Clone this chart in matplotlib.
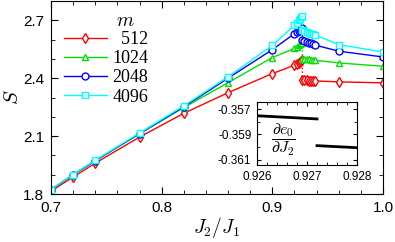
import numpy as np
import matplotlib
matplotlib.use("Agg")
import matplotlib.pyplot as plt
from matplotlib.ticker import MultipleLocator, FixedLocator, FormatStrFormatter

plt.rcParams['mathtext.fontset'] = 'cm'
plt.rcParams['font.family'] = ['Liberation Sans', 'DejaVu Sans']
plt.rcParams['axes.unicode_minus'] = False

# J2/J1 below and above the transition
x_left = [0.70, 0.72, 0.74, 0.78, 0.82, 0.86, 0.90, 0.920, 0.922, 0.924, 0.925, 0.926, 0.927]
x_right = [0.9272, 0.929, 0.931, 0.933, 0.935, 0.937, 0.939, 0.96, 1.00]

# entanglement entropy S for each bond dimension m
s512_left = [1.815, 1.888, 1.960, 2.095, 2.218, 2.325, 2.424, 2.467, 2.474, 2.480, 2.485, 2.489, 2.492]
s512_right = [2.390, 2.389, 2.389, 2.388, 2.387, 2.387, 2.386, 2.381, 2.376]
s1024_left = [1.822, 1.900, 1.972, 2.112, 2.248, 2.377, 2.507, 2.554, 2.563, 2.571, 2.576, 2.580, 2.583]
s1024_right = [2.502, 2.500, 2.499, 2.497, 2.496, 2.494, 2.493, 2.479, 2.462]
s2048_left = [1.822, 1.900, 1.973, 2.113, 2.252, 2.400, 2.548, 2.631, 2.640, 2.647, 2.651, 2.655, 2.660]
s2048_right = [2.597, 2.593, 2.588, 2.584, 2.580, 2.575, 2.571, 2.540, 2.510]
s4096_left = [1.823, 1.901, 1.975, 2.116, 2.257, 2.407, 2.570, 2.674, 2.688, 2.700, 2.708, 2.715, 2.721]
s4096_right = [2.652, 2.647, 2.641, 2.636, 2.631, 2.627, 2.623, 2.574, 2.536]

# inset: derivative of ground state energy
inset_x1 = [0.926, 0.9272]
inset_y1 = [-0.35753, -0.35778]
inset_x2 = [0.9272, 0.928]
inset_y2 = [-0.35988, -0.36004]
inset_yticks = [-0.361, -0.359, -0.357]

series = [
    ("  512", s512_left, s512_right, 'red', 'd'),
    ("1024", s1024_left, s1024_right, '#00e000', '^'),
    ("2048", s2048_left, s2048_right, 'blue', 'o'),
    ("4096", s4096_left, s4096_right, 'cyan', 's'),
]

fig = plt.figure(figsize=(3.95, 2.42), dpi=100)
ax = fig.add_axes([51 / 395, 48 / 242, 332 / 395, 193 / 242])

for label, yl, yr, c, m in series:
    ax.plot(x_left, yl, '-', color=c, marker=m, ms=5, mfc='white', mew=1, lw=1, label=label)
    ax.plot(x_right, yr, '-', color=c, marker=m, ms=5, mfc='white', mew=1, lw=1)
    ax.plot([x_left[-1], x_right[0]], [yl[-1], yr[0]], ':', color=c, lw=1)

ax.set_xlim(0.7, 1.0)
ax.set_ylim(1.8, 2.8)
ax.xaxis.set_major_locator(MultipleLocator(0.1))
ax.xaxis.set_minor_locator(MultipleLocator(0.02))
ax.yaxis.set_major_locator(MultipleLocator(0.3))
ax.yaxis.set_minor_locator(MultipleLocator(0.1))
ax.xaxis.set_major_formatter(FormatStrFormatter('%.1f'))
ax.yaxis.set_major_formatter(FormatStrFormatter('%.1f'))
ax.tick_params(which='both', direction='in', top=True, right=True, labelsize=11)
ax.tick_params(which='major', length=5, pad=5)
ax.tick_params(which='minor', length=3)
ax.set_xlabel(r'$J_2/J_1$', fontsize=14, labelpad=0)
ax.set_ylabel(r'$S$', fontsize=15, labelpad=1)

leg = ax.legend(loc='upper left', bbox_to_anchor=(0.0, 0.91), frameon=False,
                prop={'family': 'Liberation Serif', 'size': 13},
                handlelength=2.4, handletextpad=0.3, labelspacing=0.12, borderpad=0.2)
ax.text(0.225, 0.895, r'$m$', transform=ax.transAxes, fontsize=14, ha='center', va='center')

ins = fig.add_axes([257 / 395, 77 / 242, 100 / 395, 63 / 242])
ins.plot(inset_x1, inset_y1, color='black', lw=2)
ins.plot(inset_x2, inset_y2, color='black', lw=2)
ins.set_xlim(0.926, 0.928)
ins.set_ylim(-0.3614, -0.35645)
ins.xaxis.set_major_locator(MultipleLocator(0.001))
ins.xaxis.set_minor_locator(MultipleLocator(0.0002))
ins.yaxis.set_major_locator(FixedLocator(inset_yticks))
ins.yaxis.set_minor_locator(MultipleLocator(0.001))
ins.xaxis.set_major_formatter(FormatStrFormatter('%.3f'))
ins.yaxis.set_major_formatter(FormatStrFormatter('%.3f'))
ins.tick_params(which='both', direction='in', top=True, right=True, labelsize=8.5)
ins.tick_params(which='major', length=3, pad=4)
ins.tick_params(which='minor', length=2)
ins.text(0.26, 0.40, r'$\dfrac{\partial e_0}{\partial J_2}$', transform=ins.transAxes,
         fontsize=11.5, ha='center', va='center')

fig.savefig('out.png', dpi=100)
